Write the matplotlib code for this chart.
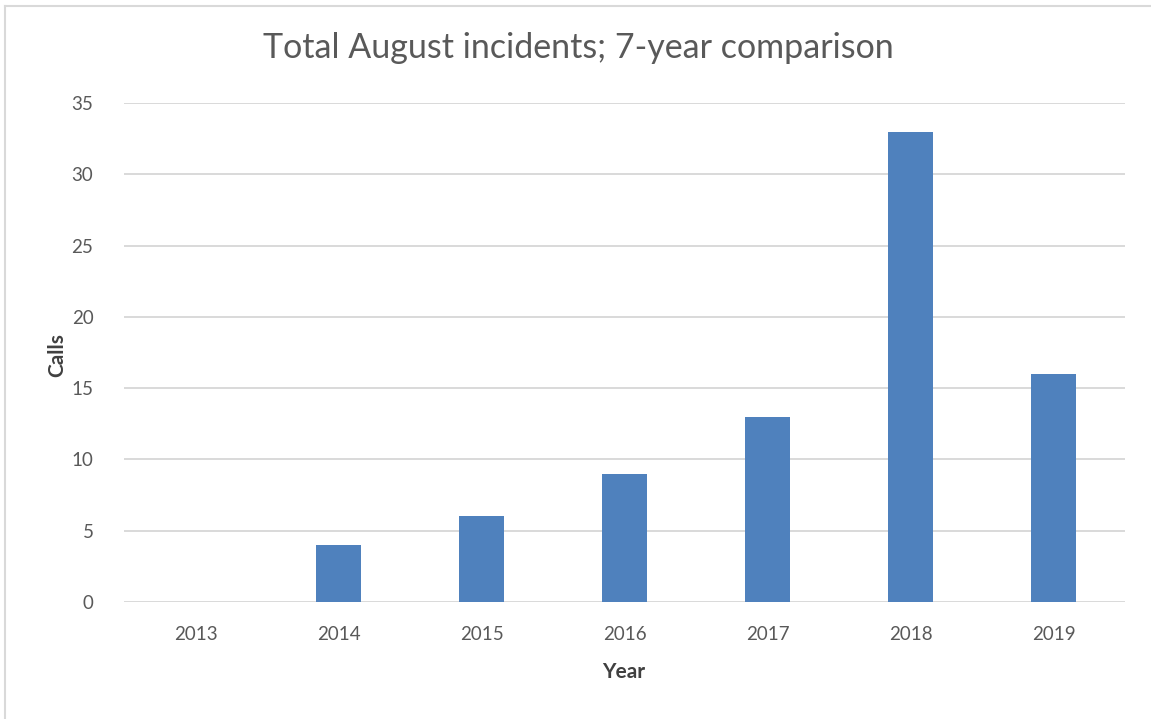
import matplotlib
matplotlib.use("Agg")
import matplotlib.pyplot as plt
from matplotlib.lines import Line2D

years = ['2013', '2014', '2015', '2016', '2017', '2018', '2019']
calls = [0, 4, 6, 9, 13, 33, 16]
yticks = [0, 5, 10, 15, 20, 25, 30, 35]

plt.rcParams['font.family'] = ['Lato', 'DejaVu Sans']
txt = '#595959'

fig = plt.figure(figsize=(11.51, 7.19), dpi=100)
W, H = 1151, 719
ax = fig.add_axes([124 / W, 1 - 602 / H, (1125 - 124) / W, (602 - 103) / H])

x = range(len(years))
ax.bar(x, calls, width=0.32, color='#4f81bd', zorder=3)
ax.set_xlim(-0.5, len(years) - 0.5)
ax.set_ylim(0, 35)
ax.set_yticks(yticks)
ax.set_xticks(list(x))
ax.set_xticklabels(years)
ax.grid(axis='y', color='#d9d9d9', linewidth=1.4, zorder=0)
for s in ax.spines.values():
    s.set_visible(False)
ax.tick_params(length=0, labelsize=13.5, colors=txt)
ax.tick_params(axis='y', pad=22)
ax.tick_params(axis='x', pad=17)

fig.text(578 / W, 1 - 48 / H, 'Total August incidents; 7-year comparison',
         ha='center', va='center', fontsize=24.5, color=txt)
fig.text(57 / W, 1 - 355 / H, 'Calls', rotation=90, ha='center', va='center',
         fontsize=15, fontweight='bold', color='#404040')
fig.text(624 / W, 1 - 672 / H, 'Year', ha='center', va='center',
         fontsize=15, fontweight='bold', color='#404040')

# outer chart border (only top and left visible in the crop)
fig.add_artist(Line2D([5 / W, 5 / W], [0, 1 - 6 / H], transform=fig.transFigure,
                      color='#d9d9d9', linewidth=1.5))
fig.add_artist(Line2D([5 / W, 1], [1 - 6 / H, 1 - 6 / H], transform=fig.transFigure,
                      color='#d9d9d9', linewidth=1.5))

fig.savefig('out.png', dpi=100)
